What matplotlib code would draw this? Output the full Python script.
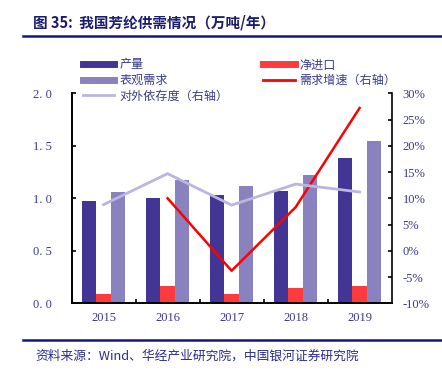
import matplotlib
matplotlib.use("Agg")
import matplotlib.pyplot as plt
from matplotlib.lines import Line2D
import numpy as np

plt.rcParams['font.family'] = ['Noto Sans CJK SC', 'DejaVu Sans']

years = ["2015", "2016", "2017", "2018", "2019"]
production = [0.97, 1.00, 1.03, 1.07, 1.38]
net_import = [0.09, 0.165, 0.09, 0.145, 0.165]
demand = [1.06, 1.17, 1.12, 1.22, 1.55]
growth = [None, 10.0, -3.8, 8.3, 27.2]          # %
dependence = [8.8, 14.7, 8.7, 12.7, 11.2]        # %

c_prod = "#433593"
c_imp = "#fd3a3e"
c_dem = "#8a82bf"
c_dep = "#bab6dd"
c_grw = "#ff0000"
c_txt = "#3a3a8a"
c_navy = "#14148a"

fig = plt.figure(figsize=(4.42, 3.80), dpi=100)
ax = fig.add_axes([0.162, 0.2018, 0.724, 0.5527])
ax2 = ax.twinx()

x = np.arange(len(years))
w = 0.226
ax.bar(x - w, production, w, color=c_prod, zorder=2)
ax.bar(x, net_import, w, color=c_imp, zorder=2)
ax.bar(x + w, demand, w, color=c_dem, zorder=2)

gx = [i for i, g in zip(x, growth) if g is not None]
gy = [g / 100 for g in growth if g is not None]
ax2.plot(gx, gy, color=c_grw, lw=1.8)
ax2.plot(x, [d / 100 for d in dependence], color=c_dep, lw=2)

ax.set_xlim(-0.5, 4.5)
ax.set_ylim(0, 2.0)
ax2.set_ylim(-0.10, 0.30)

yt = [0, 0.5, 1.0, 1.5, 2.0]
ax.set_yticks(yt)
ax.set_yticklabels([f"{v:.1f}".replace(".", ". ") for v in yt],
                   fontfamily="Liberation Serif", fontsize=9, color=c_txt)
rt = [-0.10, -0.05, 0, 0.05, 0.10, 0.15, 0.20, 0.25, 0.30]
ax2.set_yticks(rt)
ax2.set_yticklabels([f"{round(v * 100)}%" for v in rt],
                    fontfamily="Liberation Serif", fontsize=9, color=c_txt)

ax.set_xticks(x)
ax.set_xticklabels(years, fontfamily="Liberation Serif", fontsize=9, color=c_txt)
ax.set_xticks(x[:-1] + 0.5, minor=True)
ax.tick_params(axis="x", which="major", length=0, pad=6)
ax.tick_params(axis="x", which="minor", direction="in", length=3, width=1.2)
ax.tick_params(axis="y", direction="in", length=3, width=1.2, pad=14)
ax2.tick_params(axis="y", direction="in", length=3, width=1.2, pad=8)

for a in (ax, ax2):
    a.spines["top"].set_visible(False)
    for s in ("left", "right", "bottom"):
        a.spines[s].set_linewidth(1.2)
        a.spines[s].set_color("black")
ax.spines["right"].set_visible(False)

handles = [
    Line2D([], [], color=c_prod, lw=5),
    Line2D([], [], color=c_dem, lw=5),
    Line2D([], [], color=c_dep, lw=2),
    Line2D([], [], color=c_imp, lw=5),
    Line2D([], [], color=c_grw, lw=2),
]
labels = ["产量", "表观需求", "对外依存度（右轴）", "净进口", "需求增速（右轴）"]
leg = fig.legend(handles, labels, ncol=2, loc="upper left",
                 bbox_to_anchor=(0.174, 0.862), frameon=False,
                 fontsize=8.7, handlelength=2.6, handletextpad=0.4,
                 columnspacing=2.9, labelspacing=0.2, borderpad=0)
for t in leg.get_texts():
    t.set_color(c_txt)

fig.text(0.075, 0.94, "图 35:  我国芳纶供需情况（万吨/年）", fontsize=10.5,
         fontweight="bold", color="#1c1c6e", va="center")
fig.add_artist(Line2D([0.052, 1.0], [0.906, 0.906], color=c_navy, lw=1.8))
fig.add_artist(Line2D([0.052, 1.0], [0.105, 0.105], color=c_navy, lw=1.8))
fig.text(0.079, 0.062, "资料来源：Wind、华经产业研究院，中国银河证券研究院",
         fontsize=9.2, color="#2a2a90", style="italic", va="center")

fig.savefig("out.png", dpi=100)
